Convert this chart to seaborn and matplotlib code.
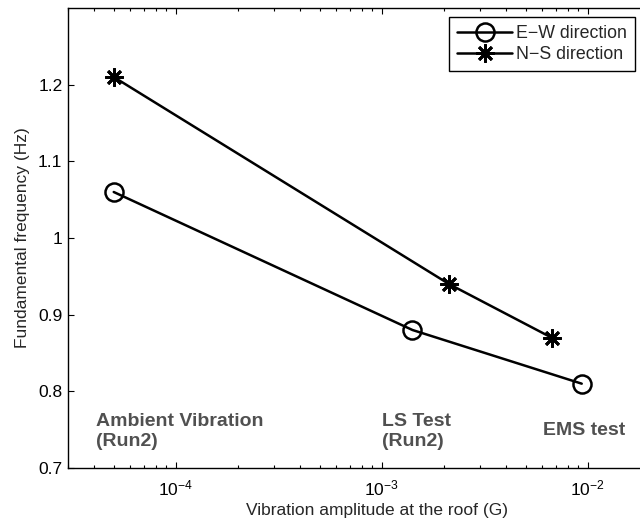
import matplotlib
matplotlib.use("Agg")
import matplotlib.pyplot as plt
import seaborn as sns
import pandas as pd
import numpy as np

# Data
ew_amp = [5.0e-5, 1.41e-3, 9.35e-3]
ew_freq = [1.06, 0.88, 0.81]
ns_amp = [5.0e-5, 2.12e-3, 6.68e-3]
ns_freq = [1.21, 0.94, 0.87]
series_labels = ["E\u2212W direction", "N\u2212S direction"]
test_labels = ["Ambient Vibration\n(Run2)", "LS Test\n(Run2)", "EMS test"]
test_label_x = [4.1e-5, 1.0e-3, 6.05e-3]
test_label_y = [0.748, 0.748, 0.749]
yticks = [0.7, 0.8, 0.9, 1.0, 1.1, 1.2]
ytick_labels = ["0.7", "0.8", "0.9", "1", "1.1", "1.2"]

sns.set_style("ticks")
plt.rcParams['font.family'] = ['Liberation Sans', 'DejaVu Sans']
plt.rcParams['xtick.direction'] = 'in'
plt.rcParams['ytick.direction'] = 'in'

fig = plt.figure(figsize=(6.4, 5.2), dpi=100)
xmin_log, xmax_log = -4.523, -1.523
left_px, right_px = 68, 686
ax = fig.add_axes([left_px / 640, 1 - 468 / 520, (right_px - left_px) / 640, (468 - 8) / 520])

df_ew = pd.DataFrame({"amp": ew_amp, "freq": ew_freq})
df_ns = pd.DataFrame({"amp": ns_amp, "freq": ns_freq})

sns.lineplot(data=df_ew, x="amp", y="freq", ax=ax, color="black", linewidth=1.8,
             marker="o", markersize=13, markerfacecolor="none", markeredgecolor="black",
             markeredgewidth=1.8, label=series_labels[0], sort=False)
sns.lineplot(data=df_ns, x="amp", y="freq", ax=ax, color="black", linewidth=1.8,
             marker=(8, 2, 0), markersize=13, markerfacecolor="black", markeredgecolor="black",
             markeredgewidth=2.0, label=series_labels[1], sort=False)

ax.set_xscale("log")
ax.set_xlim(10 ** xmin_log, 10 ** xmax_log)
ax.set_ylim(0.7, 1.3)
ax.set_yticks(yticks)
ax.set_yticklabels(ytick_labels)
ax.set_xticks([1e-4, 1e-3, 1e-2])
ax.tick_params(axis="both", which="both", top=True, right=True, labelsize=12.5,
               colors="black", width=0.8)
ax.tick_params(which="major", length=4.5)
ax.tick_params(which="minor", length=2.5)
ax.tick_params(axis="y", which="major", pad=4)
ax.tick_params(axis="x", which="major", pad=7.5)

for s in ax.spines.values():
    s.set_linewidth(1.0)
    s.set_color("black")

ax.set_xlabel("Vibration amplitude at the roof (G)", fontsize=12.5, labelpad=3.5)
ax.set_ylabel("Fundamental frequency (Hz)", fontsize=12.5, labelpad=6)

for lab, tx, ty in zip(test_labels, test_label_x, test_label_y):
    ax.text(tx, ty, lab, fontsize=14, fontweight="bold", color="#505050",
            ha="left", va="center", linespacing=1.26)

leg = ax.legend(loc="upper left", bbox_to_anchor=((449 - left_px) / (right_px - left_px), 1 - 9 / 460),
                frameon=True, fancybox=False, shadow=False, framealpha=1, edgecolor="black",
                fontsize=12.8, handlelength=3.1, borderpad=0.45, labelspacing=0.25,
                handletextpad=0.2, borderaxespad=0)
leg.get_frame().set_linewidth(1.0)

fig.savefig("out.png", dpi=100)
